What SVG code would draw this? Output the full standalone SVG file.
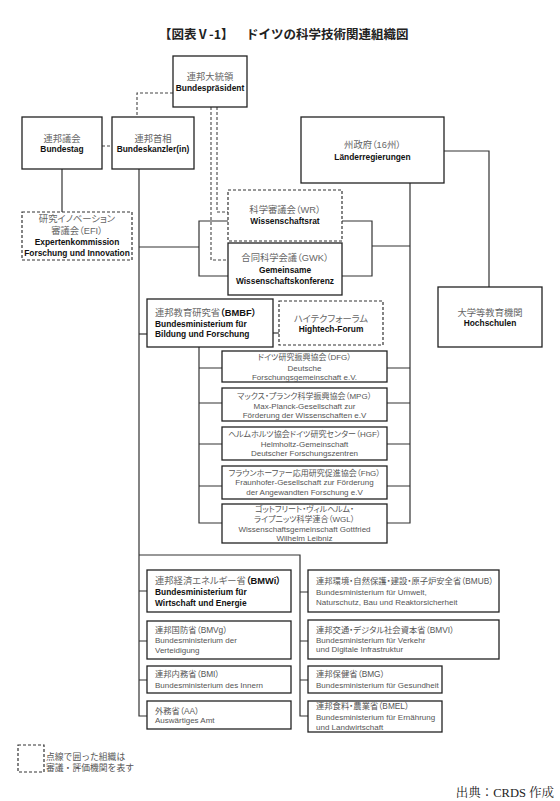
<svg xmlns="http://www.w3.org/2000/svg" width="560" height="801" viewBox="0 0 560 801">
<style>
.box{fill:#fff;stroke:#222;stroke-width:1.3}
.dbox{fill:#fff;stroke:#333;stroke-width:1.2;stroke-dasharray:3 2}
.ln{fill:none;stroke:#333;stroke-width:1.2}
.dl{fill:none;stroke:#444;stroke-width:1.1;stroke-dasharray:3 2}
text{font-family:"Liberation Sans","Noto Sans CJK JP",sans-serif}
.jp{font-size:9.3px;fill:#666;font-feature-settings:"palt"}
.de{font-size:8.4px;font-weight:bold;fill:#111}
.sj{font-size:8px;fill:#555;font-feature-settings:"palt"}
.sm{font-size:8px;fill:#555}
.mj{font-size:8.3px;fill:#555;font-feature-settings:"palt"}
.b{font-weight:bold;fill:#111}
.c{text-anchor:middle}
.t{font-size:12.5px;font-weight:bold;fill:#222;font-family:"Noto Sans CJK JP",sans-serif}
.lg{font-size:8.8px;fill:#555;font-family:"Noto Sans CJK JP",sans-serif}
.src{font-size:12.5px;fill:#222;font-family:"Liberation Serif","Noto Serif CJK JP","Noto Sans CJK JP",serif;text-anchor:end}
</style>
<rect width="560" height="801" fill="#fff"/>
<g id="title">
<text class="t" x="159" y="39">【図表Ⅴ-1】</text>
<text class="t" x="246" y="39">ドイツの科学技術関連組織図</text>
</g>
<g id="connectors">
<path class="dl" d="M173,93 H137 V117"/>
<path class="dl" d="M102,146 H112"/>
<path class="dl" d="M217,107 V212 H228"/>
<path class="dl" d="M211,107 V260 H228"/>
<path class="ln" d="M62,169 V212"/>
<path class="ln" d="M139,169 V716 H147"/>
<path class="ln" d="M139,247 H199"/>
<path class="ln" d="M228,221 H199 V276 H228"/>
<path class="ln" d="M342,221 H372 V276 H342"/>
<path class="ln" d="M372,246 H410"/>
<path class="ln" d="M410,183 V523 H387"/>
<path class="ln" d="M387,368 H410 M387,403 H410 M387,444 H410 M387,486 H410"/>
<path class="ln" d="M444,151 H489 V287"/>
<path class="ln" d="M139,334 H147"/>
<path class="ln" d="M273,333 H279"/>
<path class="ln" d="M199,347 V523 H222"/>
<path class="ln" d="M199,368 H222 M199,403 H222 M199,444 H222 M199,486 H222"/>
<path class="ln" d="M139,555 H300 V716 H308"/>
<path class="ln" d="M139,591 H147 M139,641 H147 M139,680 H147"/>
<path class="ln" d="M300,592 H308 M300,641 H308 M300,680 H308"/>
</g>
<g id="bundespraesident">
<rect class="box" x="173" y="56" width="74" height="51"/>
<text class="jp c" x="210" y="79.5">連邦大統領</text>
<text class="de c" x="210" y="91">Bundespräsident</text>
</g>
<g id="bundestag">
<rect class="box" x="22" y="117" width="80" height="52"/>
<text class="jp c" x="62" y="141.5">連邦議会</text>
<text class="de c" x="62" y="152">Bundestag</text>
</g>
<g id="bundeskanzler">
<rect class="box" x="112" y="117" width="82" height="52"/>
<text class="jp c" x="153" y="141.5">連邦首相</text>
<text class="de c" x="153" y="152">Bundeskanzler(in)</text>
</g>
<g id="efi">
<rect class="dbox" x="22" y="212" width="110" height="48"/>
<text class="jp c" x="77" y="222.3">研究イノベーション</text>
<text class="jp c" x="77" y="233.5">審議会（EFI）</text>
<text class="de c" x="77" y="245">Expertenkommission</text>
<text class="de c" x="77" y="256">Forschung und Innovation</text>
</g>
<g id="wr">
<rect class="dbox" x="228" y="190" width="114" height="51"/>
<text class="jp c" x="285" y="213.3">科学審議会（WR）</text>
<text class="de c" x="285" y="224">Wissenschaftsrat</text>
</g>
<g id="gwk">
<rect class="box" x="228" y="243" width="114" height="52"/>
<text class="jp c" x="285" y="261.3">合同科学会議（GWK）</text>
<text class="de c" x="285" y="273">Gemeinsame</text>
<text class="de c" x="285" y="284">Wissenschaftskonferenz</text>
</g>
<g id="laender">
<rect class="box" x="301" y="117" width="143" height="66"/>
<text class="jp c" x="372.5" y="148.3">州政府（16州）</text>
<text class="de c" x="372.5" y="160">Länderregierungen</text>
</g>
<g id="hochschulen">
<rect class="box" x="438" y="287" width="104" height="60"/>
<text class="jp c" x="490" y="316.3">大学等教育機関</text>
<text class="de c" x="490" y="326">Hochschulen</text>
</g>
<g id="bmbf">
<rect class="box" x="147" y="299" width="126" height="48"/>
<text class="jp" x="155" y="316.3">連邦教育研究省<tspan class="b">（BMBF）</tspan></text>
<text class="de" x="155" y="327">Bundesministerium für</text>
<text class="de" x="155" y="337">Bildung und Forschung</text>
</g>
<g id="hightech">
<rect class="dbox" x="279" y="301" width="104" height="44"/>
<text class="jp c" x="331" y="322.3">ハイテクフォーラム</text>
<text class="de c" x="331" y="332">Hightech-Forum</text>
</g>
<g id="dfg">
<rect class="box" x="222" y="351" width="165" height="31"/>
<text class="sj c" x="304.5" y="360">ドイツ研究振興協会（DFG）</text>
<text class="sm c" x="304.5" y="371">Deutsche</text>
<text class="sm c" x="304.5" y="380">Forschungsgemeinschaft e.V.</text>
</g>
<g id="mpg">
<rect class="box" x="222" y="388" width="165" height="33"/>
<text class="sj c" x="304.5" y="399">マックス・プランク科学振興協会（MPG）</text>
<text class="sm c" x="304.5" y="409">Max-Planck-Gesellschaft zur</text>
<text class="sm c" x="304.5" y="418">Förderung der Wissenschaften e.V</text>
</g>
<g id="hgf">
<rect class="box" x="222" y="427" width="165" height="33"/>
<text class="sj c" x="304.5" y="437">ヘルムホルツ協会ドイツ研究センター（HGF）</text>
<text class="sm c" x="304.5" y="447">Helmholtz-Gemeinschaft</text>
<text class="sm c" x="304.5" y="456">Deutscher Forschungszentren</text>
</g>
<g id="fhg">
<rect class="box" x="222" y="466" width="165" height="33"/>
<text class="sj c" x="304.5" y="476">フラウンホーファー応用研究促進協会（FhG）</text>
<text class="sm c" x="304.5" y="485">Fraunhofer-Gesellschaft zur Förderung</text>
<text class="sm c" x="304.5" y="495">der Angewandten Forschung e.V</text>
</g>
<g id="wgl">
<rect class="box" x="222" y="504" width="165" height="39"/>
<text class="sj c" x="304.5" y="512">ゴットフリート・ヴィルヘルム・</text>
<text class="sj c" x="304.5" y="522">ライプニッツ科学連合（WGL）</text>
<text class="sm c" x="304.5" y="532">Wissenschaftsgemeinschaft Gottfried</text>
<text class="sm c" x="304.5" y="541">Wilhelm Leibniz</text>
</g>
<g id="bmwi">
<rect class="box" x="147" y="570" width="144" height="42"/>
<text class="jp" x="155" y="584.3">連邦経済エネルギー省<tspan class="b">（BMWi）</tspan></text>
<text class="de" x="155" y="595">Bundesministerium für</text>
<text class="de" x="155" y="606">Wirtschaft und Energie</text>
</g>
<g id="bmvg">
<rect class="box" x="147" y="621" width="144" height="38"/>
<text class="mj" x="155" y="633">連邦国防省（BMVg）</text>
<text class="sm" x="155" y="643">Bundesministerium der</text>
<text class="sm" x="155" y="653">Verteidigung</text>
</g>
<g id="bmi">
<rect class="box" x="147" y="666" width="144" height="27"/>
<text class="mj" x="155" y="677">連邦内務省（BMI）</text>
<text class="sm" x="155" y="688">Bundesministerium des Innern</text>
</g>
<g id="aa">
<rect class="box" x="147" y="701" width="144" height="28"/>
<text class="mj" x="155" y="714">外務省（AA）</text>
<text class="sm" x="155" y="723">Auswärtiges Amt</text>
</g>
<g id="bmub">
<rect class="box" x="308" y="570" width="191" height="42"/>
<text class="mj" x="316" y="584">連邦環境・自然保護・建設・原子炉安全省（BMUB）</text>
<text class="sm" x="316" y="595">Bundesministerium für Umwelt,</text>
<text class="sm" x="316" y="605">Naturschutz, Bau und Reaktorsicherheit</text>
</g>
<g id="bmvi">
<rect class="box" x="308" y="620" width="191" height="39"/>
<text class="mj" x="316" y="633">連邦交通・デジタル社会資本省（BMVI）</text>
<text class="sm" x="316" y="643">Bundesministerium für Verkehr</text>
<text class="sm" x="316" y="652">und Digitale Infrastruktur</text>
</g>
<g id="bmg">
<rect class="box" x="308" y="666" width="134" height="27"/>
<text class="mj" x="316" y="677">連邦保健省（BMG）</text>
<text class="sm" x="316" y="688">Bundesministerium für Gesundheit</text>
</g>
<g id="bmel">
<rect class="box" x="308" y="701" width="134" height="31"/>
<text class="mj" x="316" y="709">連邦食料・農業省（BMEL）</text>
<text class="sm" x="316" y="720">Bundesministerium für Ernährung</text>
<text class="sm" x="316" y="730">und Landwirtschaft</text>
</g>
<g id="legend">
<rect class="dbox" x="18" y="745" width="26" height="27"/>
<text class="lg" x="46" y="759.5">点線で囲った組織は</text>
<text class="lg" x="46" y="771">審議・評価機関を表す</text>
</g>
<g id="source">
<text class="src" x="554" y="797">出典：CRDS 作成</text>
</g>
</svg>
